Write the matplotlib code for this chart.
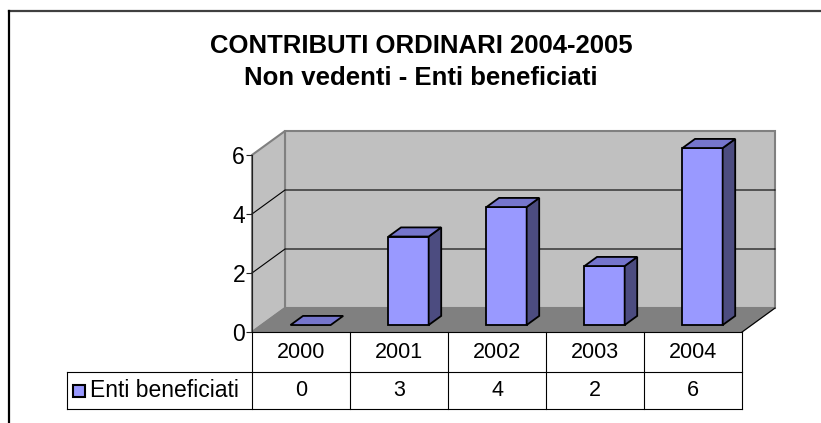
import matplotlib.pyplot as plt
from matplotlib.patches import Polygon
from matplotlib.lines import Line2D

plt.rcParams['font.family'] = ['Liberation Sans', 'DejaVu Sans']

# data
years = ['2000', '2001', '2002', '2003', '2004']
enti = [0, 3, 4, 2, 6]
series_name = 'Enti beneficiati'
title_1 = 'CONTRIBUTI ORDINARI 2004-2005'
title_2 = 'Non vedenti - Enti beneficiati'
yticks = [0, 2, 4, 6]

W, H = 821, 423
fig = plt.figure(figsize=(W / 100, H / 100), dpi=100)

# front plane of the 3d box, in pixels
x_left, x_right, y_zero, y_top = 252, 742, 332, 155
ax = fig.add_axes([x_left / W, 1 - y_zero / H, (x_right - x_left) / W, (y_zero - y_top) / H])
ax.set_xlim(0, len(years))
ax.set_ylim(0, max(yticks))

# depth of the box expressed in data units
px_x = (x_right - x_left) / len(years)
px_y = (y_zero - y_top) / max(yticks)
DX = 33 / px_x
DY = 24 / px_y


def P(x, y, d):
    return (x + d * DX, y + d * DY)


def poly(pts, fc, ec, lw, z):
    ax.add_patch(Polygon(pts, closed=True, facecolor=fc, edgecolor=ec, linewidth=lw,
                         zorder=z, clip_on=False, joinstyle='miter'))


n = len(years)
ymax = max(yticks)

# walls and floor
poly([P(0, 0, 1), P(n, 0, 1), P(n, ymax, 1), P(0, ymax, 1)], '#c0c0c0', '#808080', 1.5, 1)
poly([P(0, 0, 0), P(0, 0, 1), P(0, ymax, 1), P(0, ymax, 0)], '#c0c0c0', '#808080', 1.5, 1)
poly([P(0, 0, 0), P(n, 0, 0), P(n, 0, 1), P(0, 0, 1)], '#808080', '#808080', 1.0, 2)
ax.plot([P(n, 0, 0)[0], P(n, 0, 1)[0]], [P(n, 0, 0)[1], P(n, 0, 1)[1]],
        color='black', lw=0.8, zorder=2.5, clip_on=False)

# gridlines
for t in yticks[1:-1]:
    a, b, c = P(0, t, 0), P(0, t, 1), P(n, t, 1)
    ax.plot([a[0], b[0], c[0]], [a[1], b[1], c[1]], color='black', lw=0.8,
            zorder=1.5, clip_on=False)

# bars
half = 0.205
d0, d1 = 0.29, 0.67
for i, v in enumerate(enti):
    x0, x1 = i + 0.5 - half, i + 0.5 + half
    if v > 0:
        poly([P(x0, 0, d0), P(x1, 0, d0), P(x1, v, d0), P(x0, v, d0)], '#9999ff', 'black', 1.3, 3)
        poly([P(x1, 0, d0), P(x1, 0, d1), P(x1, v, d1), P(x1, v, d0)], '#4c4c80', 'black', 1.3, 3)
    poly([P(x0, v, d0), P(x1, v, d0), P(x1, v, d1), P(x0, v, d1)], '#7575cc', 'black', 1.3, 3)

# axis styling
for s in ['top', 'right', 'bottom']:
    ax.spines[s].set_visible(False)
ax.spines['left'].set_color('#202020')
ax.spines['left'].set_linewidth(0.8)
ax.spines['left'].set_zorder(4)
ax.patch.set_visible(False)
ax.set_xticks([])
ax.set_yticks(yticks)
ax.tick_params(axis='y', length=4, width=0.8, color='#202020', pad=1, labelsize=16.5)

# data table below the box
r1 = -40 / px_y
r2 = -77 / px_y
lab_left = (67 - x_left) / px_x
tl = dict(color='black', lw=0.8, clip_on=False, zorder=5)
ax.plot([0, n], [0, 0], **tl)
ax.plot([lab_left, n], [r1, r1], **tl)
ax.plot([lab_left, n], [r2, r2], **tl)
ax.plot([lab_left, lab_left], [r1, r2], **tl)
for k in range(n + 1):
    ax.plot([k, k], [0, r2], **tl)
for i, (yr, v) in enumerate(zip(years, enti)):
    ax.text(i + 0.5, r1 / 2, yr, ha='center', va='center', fontsize=15.5)
    ax.text(i + 0.5, (r1 + r2) / 2, str(v), ha='center', va='center', fontsize=15.5)

# legend key inside the table
key_l = (73 - x_left) / px_x
key_r = (85 - x_left) / px_x
key_b = r1 + (r2 - r1) * 0.34
key_t = r1 + (r2 - r1) * 0.67
ax.add_patch(Polygon([(key_l, key_b), (key_r, key_b), (key_r, key_t), (key_l, key_t)],
                     closed=True, facecolor='#9999ff', edgecolor='black', lw=1.5,
                     clip_on=False, zorder=5))
ax.text((90 - x_left) / px_x, (r1 + r2) / 2, series_name, ha='left', va='center', fontsize=16.5)

# titles
fig.text(421 / W, 1 - 46 / H, title_1, ha='center', va='center', fontsize=18.5, fontweight='bold')
fig.text(421 / W, 1 - 78 / H, title_2, ha='center', va='center', fontsize=18.5, fontweight='bold')

# chart area frame (only top and left edges visible)
fig.add_artist(Line2D([9 / W, 1], [1 - 11 / H, 1 - 11 / H], transform=fig.transFigure,
                      color='#404040', lw=1.6))
fig.add_artist(Line2D([9 / W, 9 / W], [1 - 11 / H, 0], transform=fig.transFigure,
                      color='black', lw=1.6))

fig.savefig('out.png', dpi=100)
